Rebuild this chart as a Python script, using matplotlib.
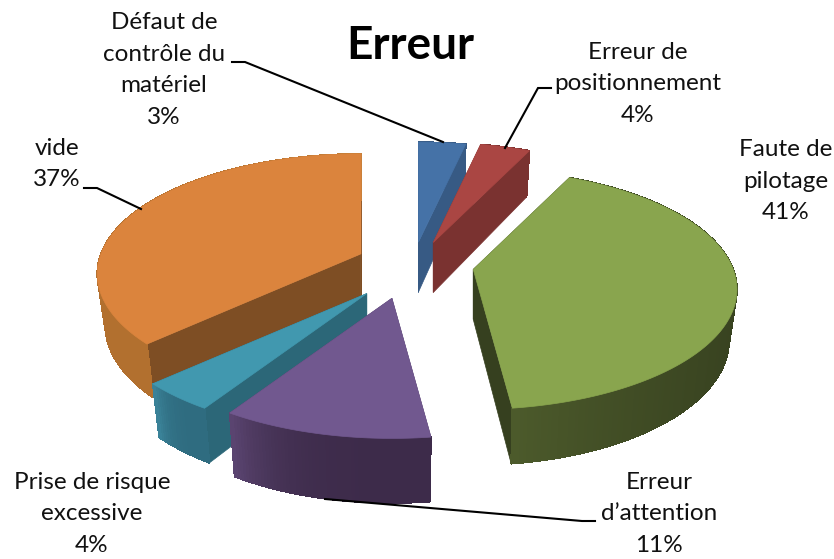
import numpy as np
import matplotlib
matplotlib.use("Agg")
import matplotlib.pyplot as plt
from matplotlib.collections import PolyCollection
from matplotlib.colors import to_rgb
from matplotlib.patches import Polygon

plt.rcParams["font.family"] = ["Lato", "DejaVu Sans"]

# Slices, clockwise from 12 o'clock
labels = [
    "Défaut de\ncontrôle du\nmatériel",
    "Erreur de\npositionnement",
    "Faute de\npilotage",
    "Erreur\nd’attention",
    "Prise de risque\nexcessive",
    "vide",
]
values = [3.4, 3.6, 41, 11, 4, 37]

top_colors = ["#4572A7", "#AA4643", "#89A54E", "#71588F", "#4198AF", "#DB843D"]
cut_colors = ["#375A84", "#7A3230", "#36401F", "#54406B", "#2C6778", "#7E4E24"]
rim_start = ["#375A84", "#7A3230", "#36401F", "#3D2B4A", "#2F6C80", "#B2702F"]
rim_end = ["#375A84", "#7A3230", "#4C5A2B", "#5A4470", "#3A8298", "#C47F38"]

# pixel layout
CX, CY = 415, 266
RX, RY, K = 260, 116.7, 0.167
EXPLODE_X, EXPLODE_Y = 60, 28
depths = [50, 50, 50, 59, 50, 50]
BOTTOM_X, BOTTOM_Y = 0.97, 1.04
nudge = [(-3, 4), (-1, 3), (-1, -1), (-10, 5), (-10, 6), (1, -1)]
draw_order = [5, 0, 1, 2, 4, 3]

label_pos = [(164, 70), (638, 84), (786, 181), (659, 514), (92, 514), (57, 164)]
leaders = [
    [(232, 62), (245, 62), (443, 142)],
    [(551, 88), (538, 88), (505, 148)],
    None,
    [(595, 521), (582, 521), (325, 499)],
    None,
    [(84, 188), (97, 188), (141, 209)],
]


def rim(angle):
    # offset from a slice tip to its rim, with the near side drawn larger
    u, v = np.sin(angle), -np.cos(angle)
    d = 1 - K * v
    return RX * u / d, RY * v / d


fig = plt.figure(figsize=(8.34, 5.59), dpi=100)
ax = fig.add_axes([0, 0, 1, 1])
ax.set_xlim(0, 834)
ax.set_ylim(559, 0)
ax.axis("off")

edges = np.radians(np.concatenate([[0], np.cumsum(values)]) * 3.6)

for i in draw_order:
    a0, a1 = edges[i], edges[i + 1]
    mid = (a0 + a1) / 2
    tip_x = CX + EXPLODE_X * np.sin(mid) + nudge[i][0]
    tip_y = CY - EXPLODE_Y * np.cos(mid) + nudge[i][1]

    t = np.linspace(a0, a1, max(int(np.degrees(a1 - a0) * 1.5), 8))
    dx, dy = np.array([rim(a) for a in t]).T
    top_x, top_y = tip_x + dx, tip_y + dy
    low_x = tip_x + BOTTOM_X * dx
    low_y = tip_y + depths[i] + BOTTOM_Y * dy

    # cut faces
    for k in (0, -1):
        ax.add_patch(Polygon(
            [(tip_x, tip_y), (top_x[k], top_y[k]), (low_x[k], low_y[k]), (tip_x, tip_y + depths[i])],
            fc=cut_colors[i], ec=cut_colors[i], lw=0.5,
        ))

    # outer wall, shaded strip by strip, light only near the last part
    quads, shades = [], []
    c0, c1 = np.array(to_rgb(rim_start[i])), np.array(to_rgb(rim_end[i]))
    for k in range(len(t) - 1):
        quads.append([(top_x[k], top_y[k]), (top_x[k + 1], top_y[k + 1]),
                      (low_x[k + 1], low_y[k + 1]), (low_x[k], low_y[k])])
        shades.append(c0 + (c1 - c0) * (k / (len(t) - 2)) ** 4)
    ax.add_collection(PolyCollection(quads, facecolors=shades, edgecolors=shades,
                                     linewidths=0.5, antialiaseds=False))

    ax.add_patch(Polygon(
        np.column_stack([np.r_[tip_x, top_x], np.r_[tip_y, top_y]]),
        fc=top_colors[i], ec=top_colors[i], lw=0.5,
    ))

for pts in leaders:
    if pts:
        xs, ys = zip(*pts)
        ax.plot(xs, ys, color="black", lw=1.5, solid_joinstyle="miter")

for name, val, (x, y) in zip(labels, values, label_pos):
    ax.text(x, y, f"{name}\n{val:.0f}%", ha="center", va="center", fontsize=17.5,
            linespacing=1.62, color="#111111")

ax.text(410, 46, "Erreur", ha="center", va="center", fontsize=33, fontweight="bold", color="black")

fig.savefig("out.png", dpi=100)
